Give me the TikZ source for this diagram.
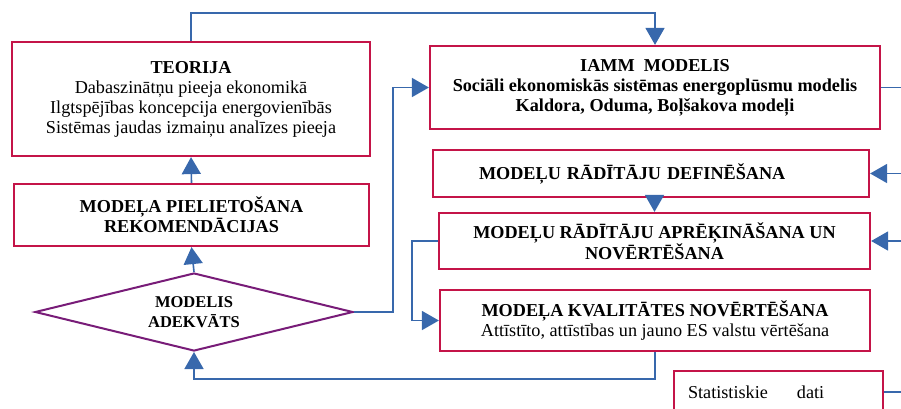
\documentclass[tikz,border=0pt]{standalone}
\usepackage{fontspec}
\setmainfont{Liberation Serif}
\usetikzlibrary{arrows.meta,shapes.geometric}
\definecolor{boxred}{RGB}{196,20,72}
\definecolor{decpurple}{RGB}{120,28,120}
\definecolor{flowblue}{RGB}{56,104,172}
\newcommand{\chartfont}{\fontsize{18.2}{20}\selectfont}
\newcommand{\decfont}{\fontsize{16.5}{20}\selectfont}
\begin{document}
\begin{tikzpicture}[x=1pt,y=-1pt,
  box/.style={draw=boxred,line width=2.2pt,fill=white,align=center,inner sep=2pt,font=\chartfont},
  decision/.style={diamond,aspect=4.08,draw=decpurple,line width=2pt,fill=white,align=center,inner sep=0pt,font=\decfont\bfseries},
  flow/.style={draw=flowblue,line width=1.6pt},
  arr/.style={flow,-{Triangle[width=19pt,length=17pt]}}]
\useasboundingbox (0,0) rectangle (901,408);

% process boxes, left column
\node[box,minimum width=358pt,minimum height=114pt] (teo) at (191,99)
  {\textbf{TEORIJA}\\Dabaszinātņu pieeja ekonomikā\\Ilgtspējības koncepcija energovienībās\\Sistēmas jaudas izmaiņu analīzes pieeja};
\node[box,minimum width=355pt,minimum height=62pt,font=\chartfont\bfseries] (use) at (191.5,215)
  {MODEĻA PIELIETOŠANA\\REKOMENDĀCIJAS};
\node[decision,minimum width=318pt,minimum height=78pt] (adeq) at (194,312)
  {MODELIS\\ADEKVĀTS};

% process boxes, right column
\node[box,minimum width=450pt,minimum height=83pt,font=\chartfont\bfseries] (iamm) at (655,87.5)
  {IAMM\ \ MODELIS\\Sociāli ekonomiskās sistēmas energoplūsmu modelis\\Kaldora, Oduma, Boļšakova modeļi};
\node[box,minimum width=436pt,minimum height=47pt,text width=344pt,align=left,font=\chartfont\bfseries] (def) at (651,173.5)
  {MODEĻU RĀDĪTĀJU DEFINĒŠANA};
\node[box,minimum width=431pt,minimum height=56pt,font=\chartfont\bfseries] (calc) at (654.5,241)
  {MODEĻU RĀDĪTĀJU APRĒĶINĀŠANA UN\\NOVĒRTĒŠANA};
\node[box,minimum width=430pt,minimum height=61pt] (qual) at (655,320.5)
  {\textbf{MODEĻA KVALITĀTES NOVĒRTĒŠANA}\\Attīstīto, attīstības un jauno ES valstu vērtēšana};
\node[box,minimum width=209pt,minimum height=42pt,text width=181pt,align=left] (stat) at (778.5,392)
  {Statistiskie\hspace{29pt}dati};

% free ends at the right margin
\coordinate (inDef) at (901,173.5);
\coordinate (inCalc) at (901,241);
\coordinate (outIamm) at (901,87.5);
\coordinate (outStat) at (901,392);
\coordinate (jA) at (393,0);
\coordinate (jB) at (412,0);

% connectors
\draw[arr] (teo.north) -- ++(0,-28) -| (iamm.north);
\draw[arr] (use.north) -- (teo.south);
\draw[arr] (adeq.north) -- (use.south);
\draw[arr] (adeq.east) -| (jA |- iamm.west) -- (iamm.west);
\draw[arr] (calc.north |- def.south) -- (calc.north);
\draw[arr] (calc.west) -| (jB |- qual.west) -- (qual.west);
\draw[arr] (qual.south) -- ++(0,27) -| (adeq.south);
\draw[arr] (inDef) -- (def.east);
\draw[arr] (inCalc) -- (calc.east);
\draw[flow] (iamm.east) -- (outIamm);
\draw[flow] (stat.east) -- (outStat);
\end{tikzpicture}
\end{document}
